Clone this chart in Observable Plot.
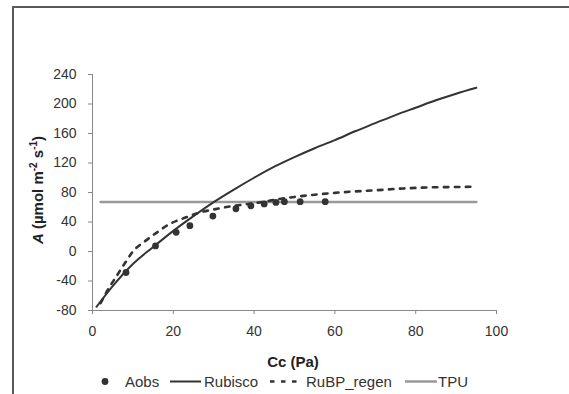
<!DOCTYPE html>
<html>
<head>
<meta charset="utf-8">
<script src="https://cdn.jsdelivr.net/npm/d3@7"></script>
<script src="https://cdn.jsdelivr.net/npm/@observablehq/plot@0.6"></script>
<style>
  html, body { margin: 0; padding: 0; background: #fff; }
  body { width: 569px; height: 394px; overflow: hidden; position: relative; font-family: "Liberation Sans", Arial, sans-serif; }
  #frame { position: absolute; left: 12px; top: 6px; width: 620px; height: 440px; border-left: 2px solid #5a5a5a; border-top: 2px solid #5a5a5a; box-sizing: border-box; }
  #chart { position: absolute; left: 0; top: 0; }
  #legend { position: absolute; left: 0; top: 372px; width: 569px; height: 20px; font-size: 15px; color: #333; }
  #legend .it { position: absolute; top: 0; line-height: 20px; white-space: nowrap; }
  #legend svg { position: absolute; top: 0; }
</style>
</head>
<body>
<div id="frame"></div>
<div id="chart"></div>
<div id="legend"></div>
<script>
// ---- data ----
const xTicks = [0, 20, 40, 60, 80, 100];
const yTicks = [-80, -40, 0, 40, 80, 120, 160, 200, 240];

const aobsCc = [8.3, 15.6, 20.7, 24.1, 29.8, 35.5, 39.2, 42.5, 45.4, 47.5, 51.4, 57.6];
const aobsA  = [-28.5, 7.5, 26, 35, 48, 58, 62, 64.5, 66.5, 67.5, 67.5, 67.5];

const rubiscoCc = [1, 5, 10, 15, 20, 25, 30, 35, 40, 45, 50, 55, 60, 65, 70, 75, 80, 85, 90, 95];
const rubiscoA  = [-75, -47, -17, 6, 28, 48, 67, 84, 100, 115, 128, 140, 151, 163, 174, 185, 195, 205, 214, 222];

const rubpCc = [2, 4, 6, 8, 10, 13, 16, 19, 23, 26, 30, 34, 38, 42, 46, 50, 55, 60, 65, 70, 77, 84, 91, 95];
const rubpA  = [-70, -50, -33, -16, 0, 14, 26, 37, 46, 52, 57, 61, 64, 67, 71, 74, 77, 79.5, 81.5, 83, 85.5, 87, 87.5, 88];

const tpuCc = [2, 95];
const tpuA  = [67, 67];

const seriesNames = ["Aobs", "Rubisco", "RuBP_regen", "TPU"];
const xTitle = "Cc (Pa)";

// ---- tables ----
const aobs = aobsCc.map((c, i) => ({c, a: aobsA[i]}));
const rubisco = rubiscoCc.map((c, i) => ({c, a: rubiscoA[i]}));
const rubp = rubpCc.map((c, i) => ({c, a: rubpA[i]}));
const tpu = tpuCc.map((c, i) => ({c, a: tpuA[i]}));

const dark = "#333333";
const axisGray = "#888888";
const fmt = d => String(d);

const plot = Plot.plot({
  width: 569,
  height: 372,
  marginLeft: 92,
  marginRight: 73,
  marginTop: 74,
  marginBottom: 62,
  style: {fontFamily: "'Liberation Sans', Arial, sans-serif", fontSize: "14px", background: "transparent"},
  x: {domain: [0, 100]},
  y: {domain: [-80, 240]},
  marks: [
    Plot.axisX({ticks: xTicks, tickFormat: fmt, tickSize: 4, tickPadding: 12, stroke: axisGray, fill: dark, fontSize: 14, label: null}),
    Plot.axisY({ticks: yTicks, tickFormat: fmt, tickSize: 4, tickPadding: 12, stroke: axisGray, fill: dark, fontSize: 14, label: null}),
    Plot.ruleX([0], {y1: -80, y2: 240, stroke: axisGray, strokeWidth: 1}),
    Plot.ruleY([-80], {x1: 0, x2: 100, stroke: axisGray, strokeWidth: 1}),
    Plot.line(tpu, {x: "c", y: "a", stroke: "#999999", strokeWidth: 2.5}),
    Plot.line(rubisco, {x: "c", y: "a", stroke: dark, strokeWidth: 2, curve: "monotone-x"}),
    Plot.line(rubp, {x: "c", y: "a", stroke: dark, strokeWidth: 2.6, strokeDasharray: "4.5,6.5", curve: "monotone-x"}),
    Plot.dot(aobs, {x: "c", y: "a", r: 3.4, fill: dark, stroke: "none"})
  ]
});

document.getElementById("chart").appendChild(plot);

// axis titles
const svg = d3.select(plot);
svg.append("text")
  .attr("x", 293).attr("y", 367)
  .attr("text-anchor", "middle")
  .attr("font-weight", "bold").attr("font-size", 15).attr("fill", "#222")
  .text(xTitle);

const yt = svg.append("text")
  .attr("transform", "translate(43,190) rotate(-90)")
  .attr("text-anchor", "middle")
  .attr("font-weight", "bold").attr("font-size", 15).attr("fill", "#222");
yt.append("tspan").attr("font-style", "italic").text("A");
yt.append("tspan").text(" (µmol m");
yt.append("tspan").attr("font-size", 10).attr("dy", -6).text("-2");
yt.append("tspan").attr("dy", 6).text(" s");
yt.append("tspan").attr("font-size", 10).attr("dy", -6).text("-1");
yt.append("tspan").attr("dy", 6).text(")");

// legend
const legend = document.getElementById("legend");
const ns = "http://www.w3.org/2000/svg";
function swatch(left, width, draw) {
  const s = document.createElementNS(ns, "svg");
  s.setAttribute("width", width); s.setAttribute("height", 20);
  s.style.left = left + "px";
  s.innerHTML = draw;
  legend.appendChild(s);
}
function label(left, txt) {
  const d = document.createElement("div");
  d.className = "it"; d.style.left = left + "px"; d.textContent = txt;
  legend.appendChild(d);
}
swatch(99, 12, `<circle cx="6" cy="9.5" r="3.4" fill="${dark}"/>`);
label(125, seriesNames[0]);
swatch(170, 31, `<line x1="0" x2="31" y1="9.5" y2="9.5" stroke="${dark}" stroke-width="2"/>`);
label(204, seriesNames[1]);
swatch(270, 33, `<line x1="0" x2="33" y1="9.5" y2="9.5" stroke="${dark}" stroke-width="2.6" stroke-dasharray="4.5,6.5"/>`);
label(306, seriesNames[2]);
swatch(405, 32, `<line x1="0" x2="32" y1="9.5" y2="9.5" stroke="#999999" stroke-width="2.5"/>`);
label(438, seriesNames[3]);
</script>
</body>
</html>
